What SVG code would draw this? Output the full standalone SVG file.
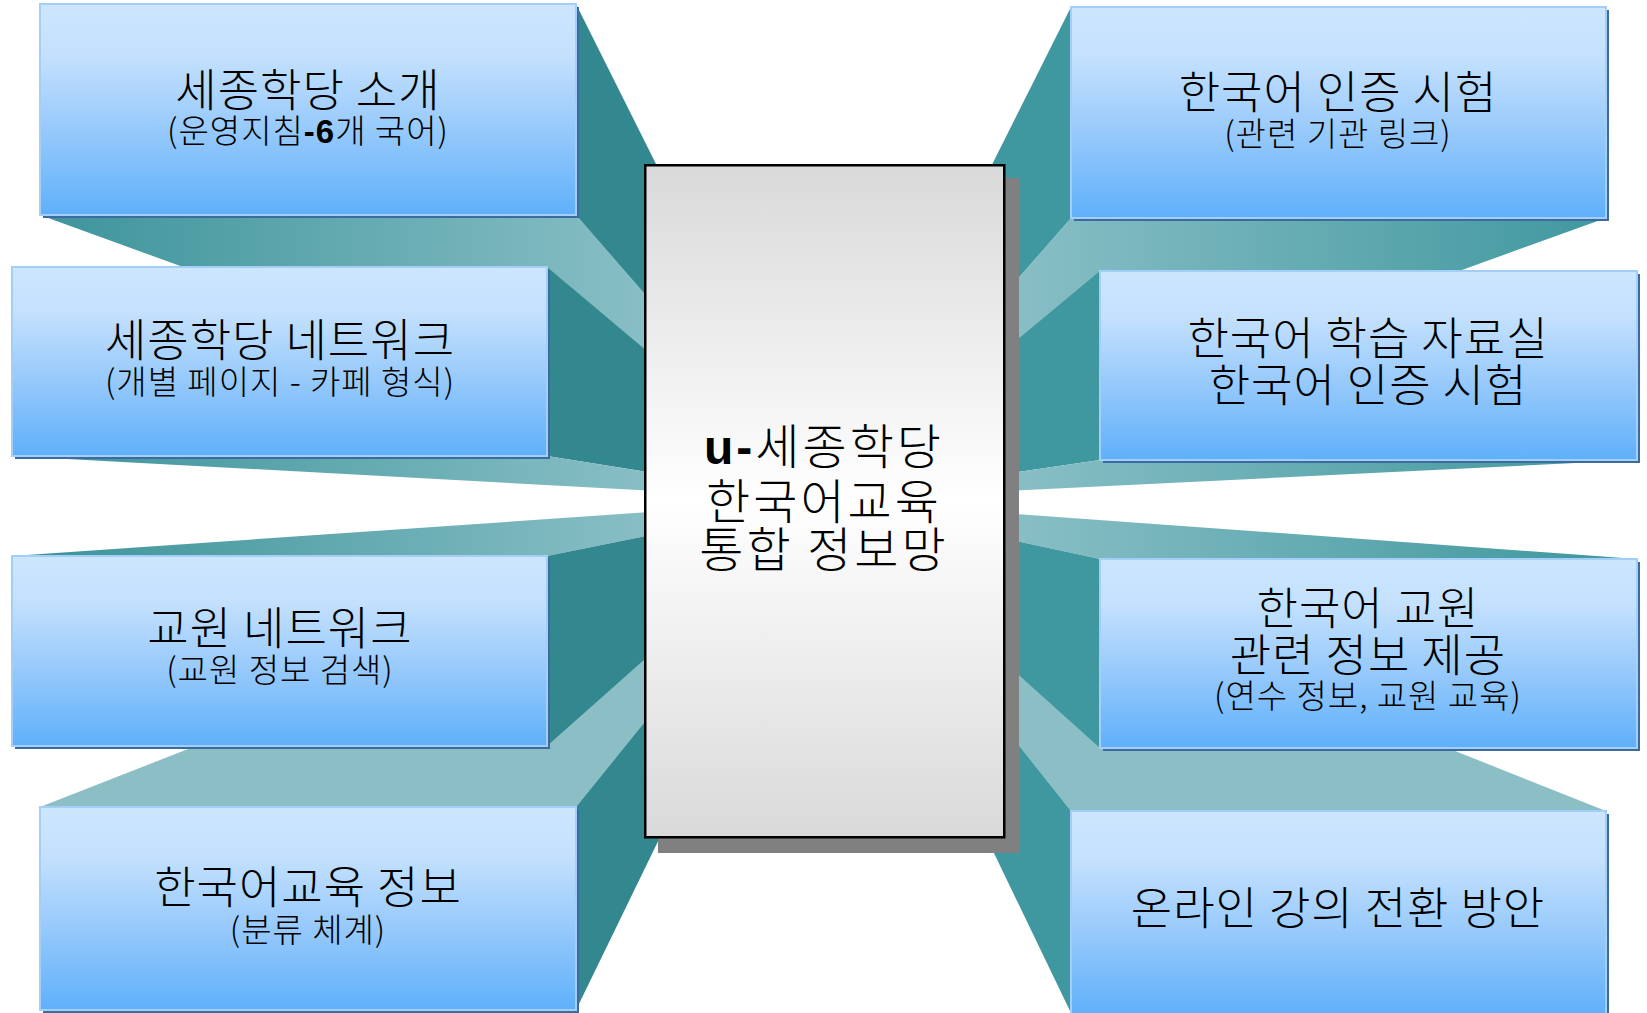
<svg xmlns="http://www.w3.org/2000/svg" width="1647" height="1013" viewBox="0 0 1647 1013">
<defs>
<linearGradient id="faceL" gradientUnits="userSpaceOnUse" x1="12" y1="0" x2="644" y2="0">
<stop offset="0" stop-color="#3a9299"/><stop offset="1" stop-color="#88bec5"/>
</linearGradient>
<linearGradient id="faceR" gradientUnits="userSpaceOnUse" x1="1637" y1="0" x2="1019" y2="0">
<stop offset="0" stop-color="#3d969d"/><stop offset="1" stop-color="#88bec5"/>
</linearGradient>
<linearGradient id="boxFill" x1="0" y1="0" x2="0" y2="1">
<stop offset="0" stop-color="#cde6fe"/>
<stop offset="0.25" stop-color="#c3e0fd"/>
<stop offset="0.6" stop-color="#96c9fb"/>
<stop offset="1" stop-color="#5fb0fa"/>
</linearGradient>
<linearGradient id="centerFill" x1="0" y1="0" x2="0" y2="1">
<stop offset="0" stop-color="#d9d9d9"/>
<stop offset="0.5" stop-color="#ffffff"/>
<stop offset="1" stop-color="#d9d9d9"/>
</linearGradient>
</defs>
<style>
.sideL{fill:#33878f}
.sideR{fill:#3f979f}
.gradL{fill:url(#faceL)}
.gradR{fill:url(#faceR)}
.flat{fill:#8bbfc5}
.box{fill:url(#boxFill);stroke:#a2cef8;stroke-width:2}
.shd{fill:#3b6b9f}
.t{font-family:"Noto Sans CJK KR","Noto Sans",sans-serif;font-size:45px;letter-spacing:1px;fill:#000;text-anchor:middle;font-weight:300}
.s{font-family:"Noto Sans CJK KR","Noto Sans",sans-serif;font-size:33px;letter-spacing:1px;fill:#000;text-anchor:middle;font-weight:300}
.c{font-family:"Noto Sans CJK KR","Noto Sans",sans-serif;font-size:48px;letter-spacing:3px;fill:#000;text-anchor:middle;font-weight:300}
</style>
<rect width="1647" height="1013" fill="#ffffff"/>
<g id="connectors">
<polygon class="gradL" points="40,215 576,215 824,500"/>
<polygon class="sideL" points="576,4 576,215 824,500"/>
<polygon class="flat" points="40,807 576,807 824,500"/>
<polygon class="sideL" points="576,807 576,1010 824,500"/>
<polygon class="sideL" points="547,267 547,456 824,500"/>
<polygon class="gradL" points="12,456 547,456 824,500"/>
<polygon class="gradL" points="12,556 547,556 824,500"/>
<polygon class="sideL" points="547,556 547,746 824,500"/>
<polygon class="gradR" points="1071,218 1606,218 824,500"/>
<polygon class="sideR" points="1071,7 1071,218 824,500"/>
<polygon class="flat" points="1071,811 1606,811 824,500"/>
<polygon class="sideR" points="1071,811 1071,1013 824,500"/>
<polygon class="sideR" points="1100,271 1100,460 824,500"/>
<polygon class="gradR" points="1100,460 1637,460 824,500"/>
<polygon class="gradR" points="1100,559 1637,559 824,500"/>
<polygon class="sideR" points="1100,559 1100,748 824,500"/>
</g>
<g id="n1">
<rect class="shd" x="43" y="7" width="536" height="211"/>
<rect class="box" x="40" y="4" width="536" height="211"/>
<text class="t" x="308" y="107">세종학당 소개</text>
<text class="s" x="308" y="143">(운영지침<tspan font-family="Liberation Sans" font-weight="bold">-6</tspan>개 국어)</text>
</g>
<g id="n2">
<rect class="shd" x="15" y="270" width="535" height="189"/>
<rect class="box" x="12" y="267" width="535" height="189"/>
<text class="t" x="280" y="357">세종학당 네트워크</text>
<text class="s" x="280" y="394">(개별 페이지 - 카페 형식)</text>
</g>
<g id="n3">
<rect class="shd" x="15" y="559" width="535" height="190"/>
<rect class="box" x="12" y="556" width="535" height="190"/>
<text class="t" x="280" y="645">교원 네트워크</text>
<text class="s" x="280" y="682">(교원 정보 검색)</text>
</g>
<g id="n4">
<rect class="shd" x="43" y="810" width="536" height="203"/>
<rect class="box" x="40" y="807" width="536" height="203"/>
<text class="t" x="308" y="904">한국어교육 정보</text>
<text class="s" x="308" y="942">(분류 체계)</text>
</g>
<g id="n5">
<rect class="shd" x="1074" y="10" width="535" height="211"/>
<rect class="box" x="1071" y="7" width="535" height="211"/>
<text class="t" x="1338" y="109">한국어 인증 시험</text>
<text class="s" x="1338" y="146">(관련 기관 링크)</text>
</g>
<g id="n6">
<rect class="shd" x="1103" y="274" width="537" height="189"/>
<rect class="box" x="1100" y="271" width="537" height="189"/>
<text class="t" x="1368" y="355">한국어 학습 자료실</text>
<text class="t" x="1368" y="402">한국어 인증 시험</text>
</g>
<g id="n7">
<rect class="shd" x="1103" y="562" width="537" height="189"/>
<rect class="box" x="1100" y="559" width="537" height="189"/>
<text class="t" x="1368" y="625">한국어 교원</text>
<text class="t" x="1368" y="672">관련 정보 제공</text>
<text class="s" x="1368" y="708">(연수 정보, 교원 교육)</text>
</g>
<g id="n8">
<rect class="shd" x="1074" y="814" width="535" height="202"/>
<rect class="box" x="1071" y="811" width="535" height="204"/>
<text class="t" x="1338" y="925">온라인 강의 전환 방안</text>
</g>
<g id="center">
<rect x="658" y="178" width="361" height="675" fill="#808080"/>
<rect x="645.25" y="165.25" width="359" height="672" fill="url(#centerFill)" stroke="#000" stroke-width="2.5"/>
<text class="c" x="824" y="464"><tspan font-family="Liberation Sans" font-weight="bold">u-</tspan>세종학당</text>
<text class="c" x="824" y="519">한국어교육</text>
<text class="c" x="824" y="567">통합 정보망</text>
</g>
</svg>
